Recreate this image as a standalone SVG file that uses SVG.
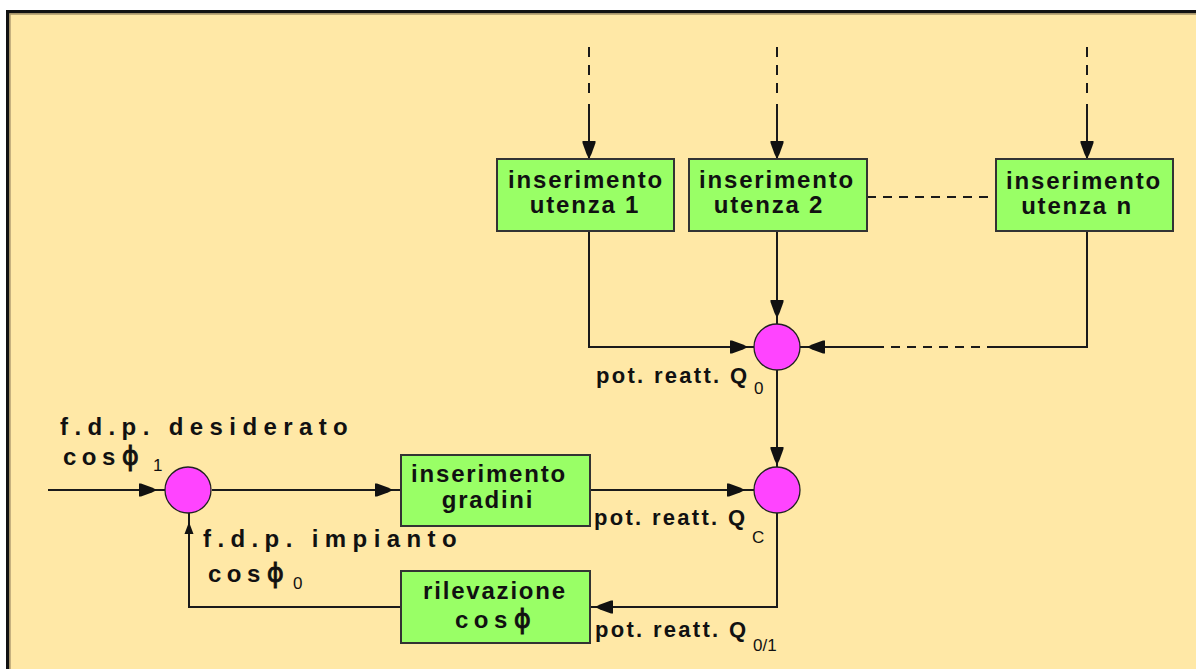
<svg xmlns="http://www.w3.org/2000/svg" xmlns:xlink="http://www.w3.org/1999/xlink" width="1196" height="669" viewBox="0 0 1196 669">
  <style>
    .frame { fill: #FFE8A6; stroke: #111; stroke-width: 3.4; }
    .block { fill: #99FF66; stroke: #333; stroke-width: 2; }
    .node { fill: #FF44FF; stroke: #222; stroke-width: 1.3; }
    .wire { fill: none; stroke: #1a1a1a; stroke-width: 2; }
    .dash { fill: none; stroke: #1a1a1a; stroke-width: 2; stroke-dasharray: 10 8; }
    .hdash { fill: none; stroke: #1a1a1a; stroke-width: 2; stroke-dasharray: 9 7; }
    .head { fill: #111; }
    .bt { font-family: "Liberation Sans", Arial, sans-serif; font-weight: bold; font-size: 24px; letter-spacing: 1.8px; fill: #111; text-anchor: middle; }
    .lbl { font-family: "Liberation Sans", Arial, sans-serif; font-weight: bold; font-size: 22px; letter-spacing: 2.3px; fill: #111; }
    .big { font-family: "Liberation Sans", Arial, sans-serif; font-weight: bold; font-size: 24px; letter-spacing: 6.4px; fill: #111; }
    .cos { font-family: "Liberation Sans", Arial, sans-serif; font-weight: bold; font-size: 24px; letter-spacing: 5.5px; fill: #111; }
    .phi { font-family: "DejaVu Sans", "Liberation Sans", sans-serif; font-size: 26px; stroke: #111; stroke-width: 0.8; fill: #111; }
    .sub { font-family: "Liberation Sans", Arial, sans-serif; font-size: 17px; fill: #111; }
  </style>
  <defs>
    <!-- arrowhead pointing along +x, tip at the origin -->
    <path id="ah" class="head" d="M0,0 L-5,-2.5 L-16,-6.5 L-18,-6.5 L-18,6.5 L-16,6.5 L-5,2.5 Z"/>
    <path id="ahs" class="head" d="M0,0 L-12,-4.5 L-12,4.5 Z"/>
  </defs>

  <!-- page background and frame -->
  <rect x="0" y="0" width="1196" height="669" fill="#ffffff"/>
  <rect class="frame" x="7.7" y="11.7" width="1200" height="670"/>
  <path d="M10,680 V14 H1200" fill="none" stroke="#a8946a" stroke-width="1.3"/>

  <g id="connectors">
    <!-- external inputs to the load blocks -->
    <path class="dash" d="M589,47 V94"/>
    <path class="wire" d="M589,104 V159"/>
    <path class="dash" d="M777,47 V94"/>
    <path class="wire" d="M777,104 V159"/>
    <path class="dash" d="M1087,47 V94"/>
    <path class="wire" d="M1087,104 V159"/>
    <use xlink:href="#ah" transform="translate(589,159) rotate(90)"/>
    <use xlink:href="#ah" transform="translate(777,159) rotate(90)"/>
    <use xlink:href="#ah" transform="translate(1087,159) rotate(90)"/>

    <!-- link between utenza 2 and utenza n -->
    <path class="hdash" d="M867,197 H996"/>

    <!-- loads into the first summing node -->
    <path class="wire" d="M589,231 V347 H754"/>
    <use xlink:href="#ah" transform="translate(748,347)"/>
    <path class="wire" d="M777,231 V324"/>
    <use xlink:href="#ah" transform="translate(777,318) rotate(90)"/>
    <path class="wire" d="M1087,231 V347 H996"/>
    <path class="hdash" d="M996,347 H878"/>
    <path class="wire" d="M878,347 H800"/>
    <use xlink:href="#ah" transform="translate(807,347) rotate(180)"/>

    <!-- first node into second node -->
    <path class="wire" d="M777,370 V467"/>
    <use xlink:href="#ah" transform="translate(777,465) rotate(90)"/>

    <!-- setpoint input and forward path -->
    <path class="wire" d="M48,490 H165"/>
    <use xlink:href="#ah" transform="translate(157,490)"/>
    <path class="wire" d="M212,490 H401"/>
    <use xlink:href="#ah" transform="translate(393,490)"/>
    <path class="wire" d="M590,490 H754"/>
    <use xlink:href="#ah" transform="translate(745,490)"/>

    <!-- feedback path -->
    <path class="wire" d="M777,513 V607 H590"/>
    <use xlink:href="#ah" transform="translate(595,607) rotate(180)"/>
    <path class="wire" d="M401,607 H189 V513"/>
    <use xlink:href="#ahs" transform="translate(189,522) rotate(-90)"/>
  </g>

  <g id="utenza1">
    <rect class="block" x="497" y="159" width="177" height="72"/>
    <text class="bt" x="586" y="188">inserimento</text>
    <text class="bt" x="585" y="213">utenza 1</text>
  </g>
  <g id="utenza2">
    <rect class="block" x="689" y="159" width="178" height="72"/>
    <text class="bt" x="777" y="188">inserimento</text>
    <text class="bt" x="769" y="213">utenza 2</text>
  </g>
  <g id="utenzan">
    <rect class="block" x="996" y="159" width="177" height="72"/>
    <text class="bt" x="1084" y="189">inserimento</text>
    <text class="bt" x="1077" y="214">utenza n</text>
  </g>
  <g id="gradini">
    <rect class="block" x="401" y="455" width="189" height="71"/>
    <text class="bt" x="489" y="482">inserimento</text>
    <text class="bt" x="488" y="508">gradini</text>
  </g>
  <g id="rilevazione">
    <rect class="block" x="401" y="571" width="189" height="72"/>
    <text class="bt" x="495" y="599">rilevazione</text>
    <text x="455" y="628"><tspan class="cos">cos</tspan><tspan class="phi" dx="1">ϕ</tspan></text>
  </g>

  <g id="sum-q0">
    <circle class="node" cx="777" cy="347" r="23"/>
    <text class="lbl" x="596" y="383">pot. reatt. Q</text>
    <text class="sub" x="754" y="394">0</text>
  </g>
  <g id="sum-qc">
    <circle class="node" cx="777" cy="490" r="23"/>
    <text class="lbl" x="594" y="525">pot. reatt. Q</text>
    <text class="sub" x="752" y="543">C</text>
  </g>
  <g id="sum-cos">
    <circle class="node" cx="188" cy="490" r="23"/>
  </g>

  <g id="labels">
    <text class="big" x="60" y="435">f.d.p. desiderato</text>
    <text x="63" y="465"><tspan class="cos">cos</tspan><tspan class="phi" dx="1">ϕ</tspan></text>
    <text class="sub" x="153" y="471">1</text>
    <text class="big" x="203" y="547">f.d.p. impianto</text>
    <text x="208" y="582"><tspan class="cos">cos</tspan><tspan class="phi" dx="1">ϕ</tspan></text>
    <text class="sub" x="293" y="589">0</text>
    <text class="lbl" x="595" y="637">pot. reatt. Q</text>
    <text class="sub" x="753" y="651">0/1</text>
  </g>
</svg>
